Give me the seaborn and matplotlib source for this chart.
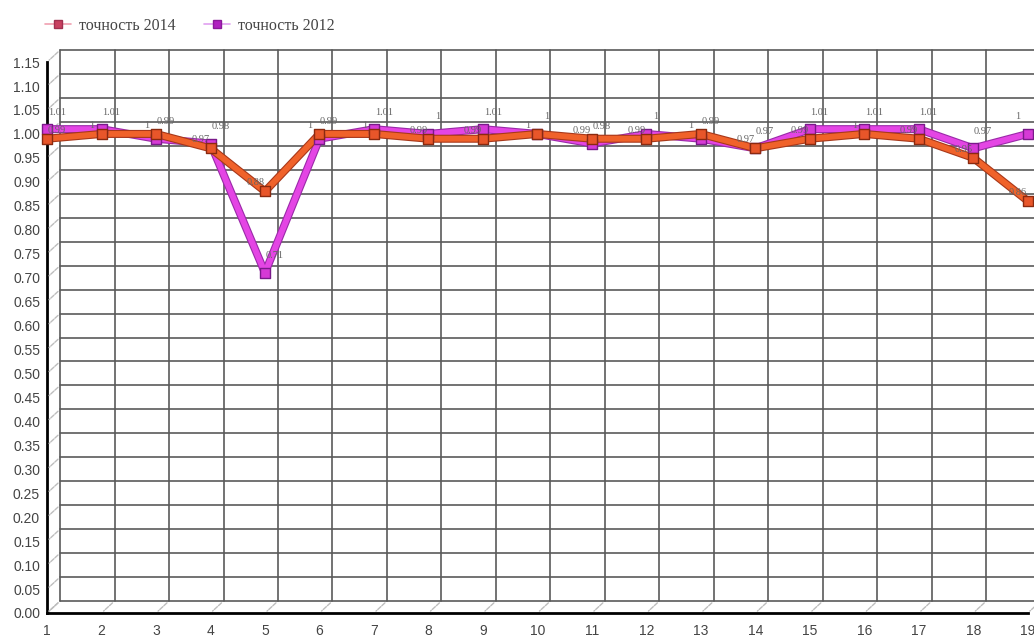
import matplotlib
matplotlib.use("Agg")
import matplotlib.pyplot as plt
import matplotlib.patheffects as pe
from matplotlib.transforms import ScaledTranslation
from matplotlib.lines import Line2D
import numpy as np
import pandas as pd
import seaborn as sns

# ---- data ----
points = list(range(1, 20))
acc_2014 = [0.99, 1.00, 1.00, 0.97, 0.88, 1.00, 1.00, 0.99, 0.99, 1.00,
            0.99, 0.99, 1.00, 0.97, 0.99, 1.00, 0.99, 0.95, 0.86]
acc_2012 = [1.01, 1.01, 0.99, 0.98, 0.71, 0.99, 1.01, 1.00, 1.01, 1.00,
            0.98, 1.00, 0.99, 0.97, 1.01, 1.01, 1.01, 0.97, 1.00]
label_2014 = "точность 2014"
label_2012 = "точность 2012"
y_ticks = [round(0.05 * i, 2) for i in range(24)]

df = pd.DataFrame({
    "x": points * 2,
    "y": acc_2014 + acc_2012,
    "series": [label_2014] * len(points) + [label_2012] * len(points),
})

sns.set_theme(style="white")
plt.rcParams["font.family"] = ["Liberation Sans", "DejaVu Sans"]

fig = plt.figure(figsize=(10.34, 6.4), dpi=100)
ax = fig.add_axes([0.0455, 0.0422, 0.9485, 0.8608])
ax.set_xlim(1, 19)
ax.set_ylim(0, 1.15)

# back-wall grid (pseudo-3D offset)
off = ScaledTranslation(13 / 100, 12 / 100, fig.dpi_scale_trans)
grid_kw = dict(color="#5a5a5a", lw=1.2, zorder=0.5, clip_on=False)
for t in y_ticks:
    ax.plot([1, 19.5], [t, t], transform=ax.transData + off, **grid_kw)
for p in points:
    ax.plot([p, p], [0, 1.15], transform=ax.transData + off, **grid_kw)
# depth lines from axes to wall
for p in points:
    ax.annotate("", xy=(p, 0), xytext=(13, 12), textcoords="offset pixels",
                arrowprops=dict(arrowstyle="-", color="#bdbdbd", lw=1.0, ls=(0, (3, 1))),
                annotation_clip=False)
for t in y_ticks:
    ax.annotate("", xy=(1, t), xytext=(13, 12), textcoords="offset pixels",
                arrowprops=dict(arrowstyle="-", color="#bdbdbd", lw=1.0, ls=(0, (3, 1))),
                annotation_clip=False)

# series
d12 = df[df.series == label_2012]
d14 = df[df.series == label_2014]
sns.lineplot(data=d12, x="x", y="y", ax=ax, color="#e445e4", lw=4.2,
             legend=False,
             path_effects=[pe.Stroke(linewidth=5.8, foreground="#9a2aa8"), pe.Normal()],
             zorder=3, clip_on=False)
sns.lineplot(data=d14, x="x", y="y", ax=ax, color="#f0622a", lw=4.2,
             legend=False,
             path_effects=[pe.Stroke(linewidth=5.8, foreground="#a8381a"), pe.Normal()],
             zorder=4, clip_on=False)
sns.scatterplot(data=d12, x="x", y="y", ax=ax, marker="s", s=42,
                color="#d63ad6", edgecolor="#7a1a8a", linewidth=1.0,
                legend=False, zorder=5, clip_on=False)
sns.scatterplot(data=d14, x="x", y="y", ax=ax, marker="s", s=42,
                color="#e8562a", edgecolor="#8a2a10", linewidth=1.0,
                legend=False, zorder=5, clip_on=False)

# data labels
n = len(points)
for i, (x, v) in enumerate(zip(points, acc_2014)):
    dx = 7 if i == 0 else -7
    ax.annotate(f"{v:g}", (x, v), xytext=(dx, 3), textcoords="offset points",
                fontsize=7.5, color="#666666", ha="center", va="bottom", zorder=6,
                family=["Liberation Serif", "DejaVu Serif"])
for i, (x, v) in enumerate(zip(points, acc_2012)):
    dx = -7 if i == n - 1 else 7
    ax.annotate(f"{v:g}", (x, v), xytext=(dx, 9), textcoords="offset points",
                fontsize=7.5, color="#666666", ha="center", va="bottom", zorder=6,
                family=["Liberation Serif", "DejaVu Serif"])

# axes styling
ax.set_xticks(points)
ax.set_xticklabels([str(p) for p in points])
ax.set_yticks(y_ticks)
ax.set_yticklabels([f"{t:.2f}" for t in y_ticks])
ax.set_xlabel("")
ax.set_ylabel("")
for s in ["top", "right"]:
    ax.spines[s].set_visible(False)
for s in ["left", "bottom"]:
    ax.spines[s].set_color("black")
    ax.spines[s].set_linewidth(2)
ax.tick_params(axis="y", which="major", direction="out", length=4, width=1,
               color="black", labelsize=10, labelcolor="#444444", pad=1)
ax.tick_params(axis="x", which="major", direction="out", length=3, width=1,
               color="#555555", labelsize=10, labelcolor="#444444", pad=5)
ax.set_facecolor("white")

# legend
handles = [
    Line2D([], [], color="#f0a0b0", lw=1.2, marker="s", markersize=6,
           markerfacecolor="#c84060", markeredgecolor="#a03050"),
    Line2D([], [], color="#e0a0f0", lw=1.2, marker="s", markersize=6,
           markerfacecolor="#b020c0", markeredgecolor="#8a1a9a"),
]
fig.legend(handles, [label_2014, label_2012], loc="upper left",
           bbox_to_anchor=(0.030, 0.995), ncol=2, frameon=False,
           prop={"family": ["Liberation Serif", "DejaVu Serif"], "size": 11.5},
           handlelength=1.6, columnspacing=1.8, handletextpad=0.5,
           labelcolor="#444444")

fig.savefig("out.png", dpi=100)
